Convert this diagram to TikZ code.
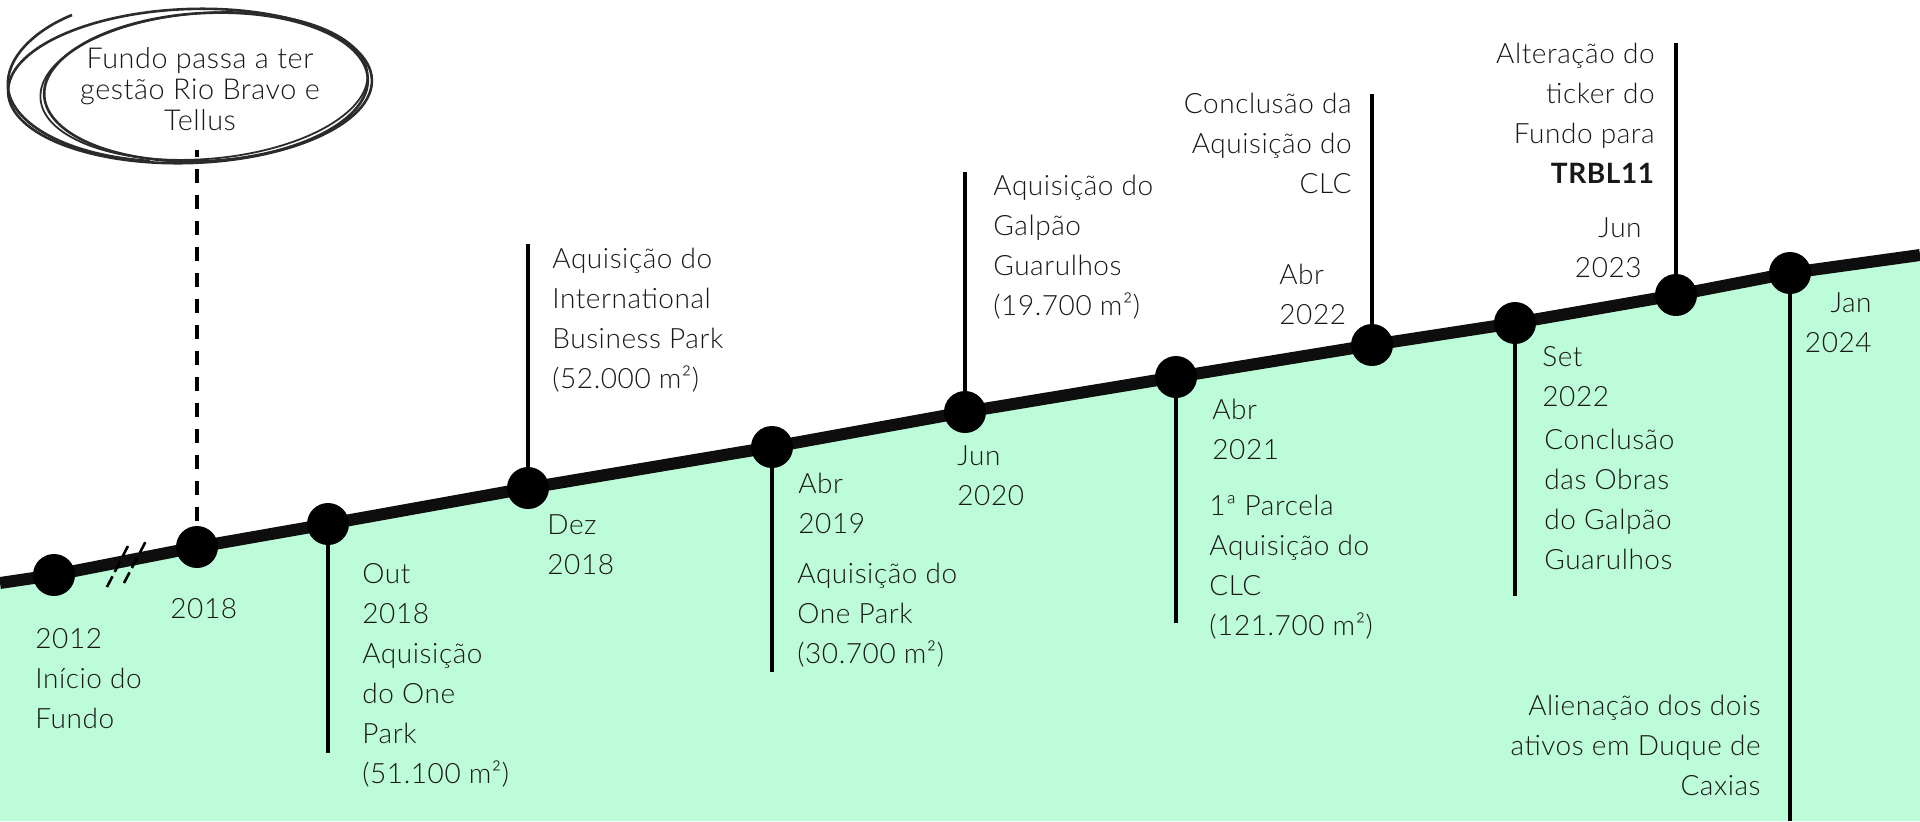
\documentclass[tikz,border=0pt]{standalone}
\usepackage{fontspec}
\usetikzlibrary{shapes.geometric}
\setmainfont{Lato}[UprightFont={* Light}, BoldFont={* Bold}, LetterSpace=2]
\definecolor{mint}{RGB}{189,252,216}
\definecolor{ink}{RGB}{24,24,24}
\definecolor{pen}{RGB}{45,43,41}
\definecolor{axis}{RGB}{14,14,14}
\newcommand\lblfont{\fontsize{14}{20}\selectfont}
\newcommand\ellfont{\fontsize{14.4}{15.6}\selectfont}
\tikzset{
 dotnode/.style={circle, fill=black, minimum size=21pt, inner sep=0pt},
 stem/.style={line width=2pt, black},
 dstem/.style={line width=2pt, black, dash pattern=on 7pt off 6pt},
 brk/.style={line width=1.3pt, black, dash pattern=on 6pt off 2.5pt},
 lblL/.style={inner sep=0pt, anchor=north west, align=left, text=ink, font=\lblfont},
 lblR/.style={inner sep=0pt, anchor=north east, align=right, text=ink, font=\lblfont},
 sketch/.style={draw=pen, line width=1.3pt},
 ring/.style={sketch, ellipse, inner sep=0pt, outer sep=0pt},
}
\begin{document}
\begin{tikzpicture}[x=0.5pt,y=-0.5pt]
\useasboundingbox (0,0) rectangle (1920,821);
% timeline points
\coordinate (ls) at (0,583);
\coordinate (p1) at (54,575);
\coordinate (p2) at (197,547);
\coordinate (p3) at (328,524);
\coordinate (p4) at (528,488);
\coordinate (p5) at (772,447);
\coordinate (p6) at (965,412);
\coordinate (p7) at (1176,377);
\coordinate (p8) at (1372,345);
\coordinate (p9) at (1515,323);
\coordinate (p10) at (1676,295);
\coordinate (p11) at (1790,273);
\coordinate (le) at (1920,255);
\coordinate (bl) at (0,821);
\coordinate (br) at (1920,821);
% green area
\fill[mint] (ls) -- (p1) -- (p2) -- (p3) -- (p4) -- (p5) -- (p6) -- (p7) -- (p8) -- (p9) -- (p10) -- (p11) -- (le) -- (br) -- (bl) -- cycle;
% axis
\draw[axis, line width=6pt, line join=round] (ls) -- (p1) -- (p2) -- (p3) -- (p4) -- (p5) -- (p6) -- (p7) -- (p8) -- (p9) -- (p10) -- (p11) -- (le);
% break marks
\coordinate (b1a) at (107,587); \coordinate (b1b) at (130,542);
\coordinate (b2a) at (124,583); \coordinate (b2b) at (147,539);
\draw[brk] (b1a) -- (b1b);
\draw[brk] (b2a) -- (b2b);
% stem ends
\coordinate (s2) at (197,150);
\coordinate (s3) at (328,753);
\coordinate (s4) at (528,244);
\coordinate (s5) at (772,672);
\coordinate (s6) at (965,172);
\coordinate (s7) at (1176,623);
\coordinate (s8) at (1372,94);
\coordinate (s9) at (1515,596);
\coordinate (s10) at (1676,43);
\coordinate (s11) at (1790,821);
\draw[dstem] (p2) -- (s2);
\foreach \i in {3,...,11} \draw[stem] (p\i) -- (s\i);
% dots
\foreach \i in {1,...,11} \node[dotnode] (d\i) at (p\i) {};
% sketched ellipse
\node[ring, minimum width=162pt, minimum height=74pt, rotate=3] (e1) at (206,87) {};
\node[ring, line width=0.9pt, minimum width=164pt, minimum height=73pt, rotate=4.5] (e2) at (204,86) {};
\node[ring, minimum width=182pt, minimum height=77pt, rotate=2] (e3) at (190,86) {};
\coordinate (t0) at (72,15);
\coordinate (t1) at (8,88);
\coordinate (t2) at (150,161);
\draw[sketch] (t0) .. controls (35,30) and (5,58) .. (t1) .. controls (12,125) and (70,156) .. (t2);
\node[inner sep=0pt, anchor=north, align=center, text=ink, font=\ellfont] (ell) at (200,46) {\strut Fundo passa a ter\\gestão Rio Bravo e\\Tellus};
% labels
\node[lblL] (l1) at (35,620) {\strut 2012\\Início do\\Fundo};
\node[lblL] (l2) at (170,590) {\strut 2018};
\node[lblL] (l3) at (362,555) {\strut Out\\2018\\Aquisição\\do One\\Park\\(51.100 m²)};
\node[lblL] (l4) at (547,506) {\strut Dez\\2018};
\node[lblL] (l4t) at (552,240) {\strut Aquisição do\\International\\Business Park\\(52.000 m²)};
\node[lblL] (l5) at (798,465) {\strut Abr\\2019};
\node[lblL] (l5t) at (797,555) {\strut Aquisição do\\One Park\\(30.700 m²)};
\node[lblL] (l6) at (957,437) {\strut Jun\\2020};
\node[lblL] (l6t) at (993,167) {\strut Aquisição do\\Galpão\\Guarulhos\\(19.700 m²)};
\node[lblL] (l7) at (1212,391) {\strut Abr\\2021};
\node[lblL] (l7t) at (1209,487) {\strut 1ª Parcela\\Aquisição do\\CLC\\(121.700 m²)};
\node[lblR] (l8t) at (1352,85) {\strut Conclusão da\\Aquisição do\\CLC};
\node[lblL] (l8) at (1279,256) {\strut Abr\\2022};
\node[lblL] (l9) at (1542,338) {\strut Set\\2022};
\node[lblL] (l9t) at (1544,421) {\strut Conclusão\\das Obras\\do Galpão\\Guarulhos};
\node[lblR] (l10t) at (1655,35) {\strut Alteração do\\ticker do\\Fundo para\\\textbf{TRBL11}};
\node[lblR] (l10) at (1642,209) {\strut Jun\\2023};
\node[lblR] (l11) at (1872,284) {\strut Jan\\2024};
\node[lblR] (l11t) at (1761,687) {\strut Alienação dos dois\\ativos em Duque de\\Caxias};
\end{tikzpicture}
\end{document}
